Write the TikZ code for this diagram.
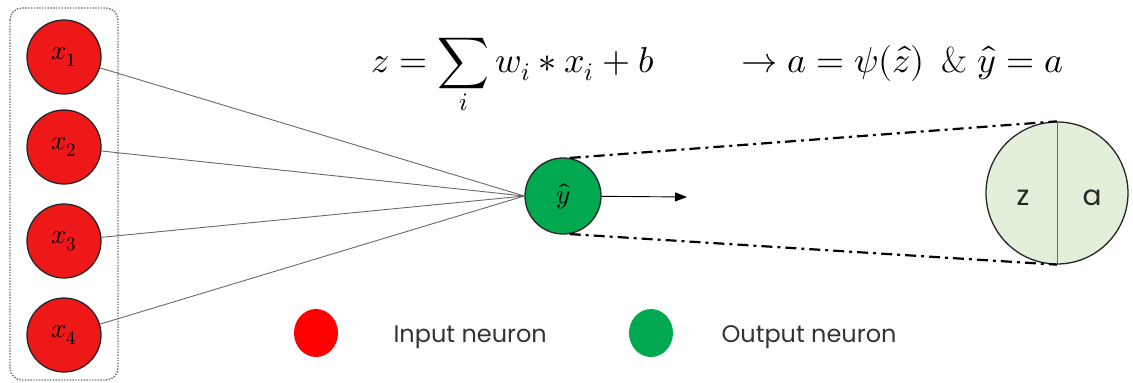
\documentclass[tikz,border=0pt]{standalone}
\usepackage{fontspec}
\usepackage{unicode-math}
\setmathfont{Latin Modern Math}
\newfontfamily\legendfont{Poppins}
\usetikzlibrary{arrows.meta,shapes.geometric}
\definecolor{inred}{RGB}{238,24,24}
\definecolor{outgreen}{RGB}{0,168,80}
\definecolor{lightgreen}{RGB}{226,239,218}
\definecolor{boxgray}{RGB}{95,110,130}
\definecolor{wgray}{RGB}{105,105,105}
\tikzset{
  inp/.style={circle, draw=black!85, line width=1.3pt, fill=inred, minimum size=74pt, inner sep=0pt, font=\fontsize{27}{31}\selectfont},
  outp/.style={circle, draw=black!85, line width=1.3pt, fill=outgreen, minimum size=76pt, inner sep=0pt, font=\fontsize{27}{31}\selectfont},
  bigc/.style={circle, draw=black!85, line width=1.3pt, fill=lightgreen, minimum size=142pt, inner sep=0pt},
  wline/.style={draw=wgray, line width=0.9pt},
  dashdotline/.style={draw=black, line width=2.2pt, dash pattern=on 11pt off 5pt on 3pt off 5pt},
  legdot/.style={ellipse, minimum width=44pt, minimum height=48pt, inner sep=0pt},
  legtext/.style={anchor=base west, font=\legendfont\fontsize{24}{28}\selectfont, text=black!80},
  halflabel/.style={font=\legendfont\fontsize{28}{32}\selectfont, text=black!85},
  formula/.style={anchor=base west, font=\fontsize{36}{42}\selectfont}
}
\begin{document}
\begin{tikzpicture}[x=1pt,y=-1pt]
\useasboundingbox (0,0) rectangle (1133,383);
\draw[draw=boxgray, line width=1.4pt, dash pattern=on 1.4pt off 1.4pt, rounded corners=12pt] (10,8) rectangle (118,380);
\node[inp] (x1) at (64,57) {$x_1$};
\node[inp] (x2) at (64,147) {$x_2$};
\node[inp] (x3) at (64,241) {$x_3$};
\node[inp] (x4) at (64,335) {$x_4$};
\node[outp] (y) at (563,196) {$\hat y$};
\foreach \n in {x1,x2,x3,x4} \draw[wline] (\n) -- (y.west);
\coordinate (ar) at (687,197);
\draw[line width=0.9pt, -{Triangle[length=12pt,width=9pt]}] (y) -- (ar);
\node[bigc] (big) at (1057,193) {};
\draw[draw=black!60, line width=0.8pt] (big.north) -- (big.south);
\node[halflabel] (zl) at (1023,198) {z};
\node[halflabel] (al) at (1092,198) {a};
\draw[dashdotline] (y.80) -- (big.north);
\draw[dashdotline] (y.-80) -- (big.south);
\node[formula] (f1) at (368,72) {$\displaystyle z=\sum_i w_i*x_i+b$};
\node[formula] (f2) at (738,72) {$\rightarrow a=\psi(\hat z)\ \,\text{\&}\ \hat y=a$};
\node[legdot, fill=red] (lr) at (316,333) {};
\node[legtext] (lrt) at (390,342) {Input neuron};
\node[legdot, fill=outgreen] (lg) at (651,333) {};
\node[legtext] (lgt) at (718,342) {Output neuron};
\end{tikzpicture}
\end{document}
